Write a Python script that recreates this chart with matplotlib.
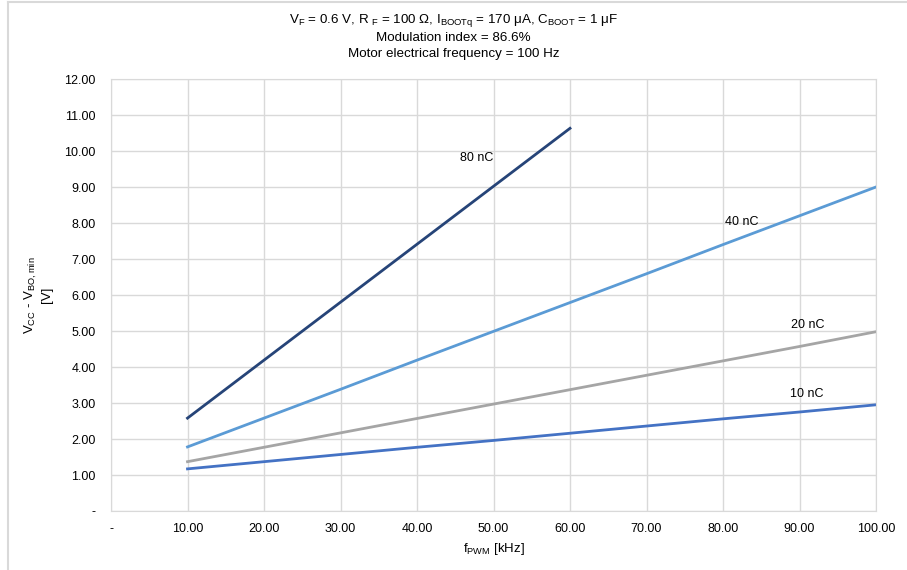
import matplotlib.pyplot as plt
from matplotlib.lines import Line2D

# PWM frequency [kHz]
f_pwm = [10, 20, 30, 40, 50, 60, 70, 80, 90, 100]
f_pwm_80 = [10, 20, 30, 40, 50, 60]

# Vcc - Vbo,min [V] for each gate charge
v_80nc = [2.58, 4.19, 5.80, 7.41, 9.02, 10.63]
v_40nc = [1.78, 2.58, 3.38, 4.19, 4.99, 5.79, 6.59, 7.40, 8.20, 9.00]
v_20nc = [1.37, 1.77, 2.17, 2.57, 2.97, 3.37, 3.77, 4.17, 4.57, 4.98]
v_10nc = [1.17, 1.37, 1.57, 1.77, 1.96, 2.16, 2.36, 2.56, 2.75, 2.95]

x_ticks = [0, 10, 20, 30, 40, 50, 60, 70, 80, 90, 100]
y_ticks = [0, 1, 2, 3, 4, 5, 6, 7, 8, 9, 10, 11, 12]

plt.rcParams['font.family'] = ['Liberation Sans', 'DejaVu Sans']

fig = plt.figure(figsize=(9.07, 5.70), dpi=100)
ax = fig.add_axes([111 / 907, 1 - 511 / 570, (876 - 111) / 907, (511 - 79) / 570])

ax.plot(f_pwm_80, v_80nc, color='#264478', lw=2)
ax.plot(f_pwm, v_40nc, color='#5B9BD5', lw=2)
ax.plot(f_pwm, v_20nc, color='#A5A5A5', lw=2)
ax.plot(f_pwm, v_10nc, color='#4472C4', lw=2)

#series labels
ax.text(47.8, 9.8, '80 nC', fontsize=9, ha='center', va='center')
ax.text(82.4, 8.03, '40 nC', fontsize=9, ha='center', va='center')
ax.text(91.1, 5.17, '20 nC', fontsize=9, ha='center', va='center')
ax.text(91.0, 3.25, '10 nC', fontsize=9, ha='center', va='center')

ax.set_xlim(0, 100)
ax.set_ylim(0, 12)
ax.set_xticks(x_ticks)
ax.set_yticks(y_ticks)
ax.set_xticklabels(['-'] + [f'{v:.2f}' for v in x_ticks[1:]], fontsize=9)
ax.set_yticklabels(['-'] + [f'{v:.2f}' for v in y_ticks[1:]], fontsize=9)
ax.tick_params(axis='x', length=0, pad=9)
ax.tick_params(axis='y', length=0, pad=11)
ax.grid(color='#D9D9D9', lw=1)
ax.set_axisbelow(True)
for s in ax.spines.values():
    s.set_color('#D9D9D9')

ax.set_xlabel(r'f$_{\mathregular{PWM}}$ [kHz]', fontsize=9.5, labelpad=4)
ax.set_ylabel('V$_{\\mathregular{CC}}$ - V$_{\\mathregular{BO,min}}$\n[V]', fontsize=9.5, labelpad=8)

fig.text(0.5, 1 - 21 / 570,
         r'V$_{\mathregular{F}}$ = 0.6 V, R $_{\mathregular{F}}$ = 100 Ω, I$_{\mathregular{BOOTq}}$ = 170 μA, C$_{\mathregular{BOOT}}$ = 1 μF',
         ha='center', va='center', fontsize=9.6)
fig.text(0.5, 1 - 38 / 570, 'Modulation index = 86.6%', ha='center', va='center', fontsize=9.6)
fig.text(0.5, 1 - 54 / 570, 'Motor electrical frequency = 100 Hz', ha='center', va='center', fontsize=9.6)

#outer chart border
fig.add_artist(Line2D([8 / 907, 8 / 907], [0, 1 - 2 / 570], color='#D9D9D9', lw=1.5, transform=fig.transFigure))
fig.add_artist(Line2D([8 / 907, 1], [1 - 2 / 570, 1 - 2 / 570], color='#D9D9D9', lw=1.5, transform=fig.transFigure))

fig.savefig('out.png', dpi=100)
